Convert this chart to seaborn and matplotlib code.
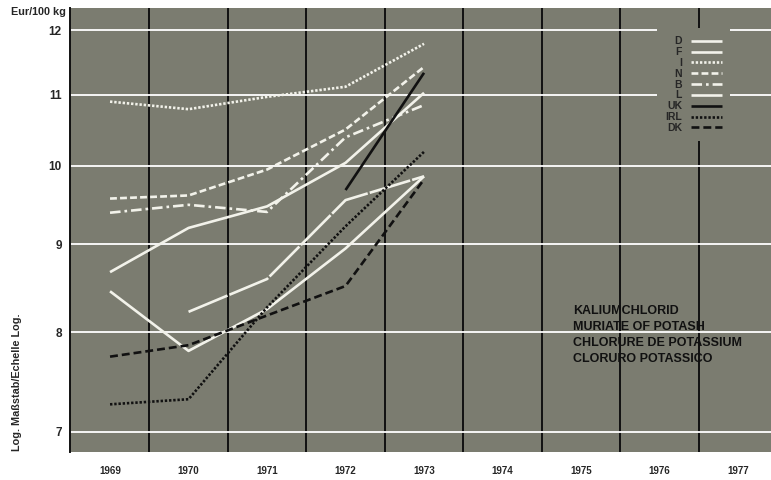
import numpy as np
import pandas as pd
import matplotlib
matplotlib.use("Agg")
import matplotlib.pyplot as plt
import seaborn as sns

# Kaliumchlorid prices, Eur/100 kg
years = [1969, 1970, 1971, 1972, 1973]
year_ticks = list(range(1969, 1978))

d_vals = [8.67, 9.20, 9.47, 10.04, 11.03]
f_vals = [8.45, 7.80, 8.25, 8.95, 9.86]
i_vals = [10.90, 10.79, 10.97, 11.12, 11.78]
n_vals = [9.57, 9.61, 9.95, 10.50, 11.42]
b_vals = [9.39, 9.49, 9.40, 10.39, 10.85]
l_vals = [np.nan, 8.22, 8.59, 9.55, 9.86]
uk_vals = [np.nan, np.nan, np.nan, 9.68, 11.33]
irl_vals = [7.26, 7.31, 8.27, 9.22, 10.19]
dk_vals = [7.74, 7.86, 8.18, 8.51, 9.82]

y_ticks = [7, 8, 9, 10, 11, 12]

WHITE = "#f2f2ea"
BLACK = "#111111"
BG = "#7b7c70"

series = [
    ("D", d_vals, WHITE, "-"),
    ("F", f_vals, WHITE, "-"),
    ("I", i_vals, WHITE, (0, (0.9, 0.7))),
    ("N", n_vals, WHITE, (0, (2.6, 1.2))),
    ("B", b_vals, WHITE, (0, (4, 1.5, 1, 1.5))),
    ("L", l_vals, WHITE, (0, (16, 0.8))),
    ("UK", uk_vals, BLACK, "-"),
    ("IRL", irl_vals, BLACK, (0, (0.9, 0.7))),
    ("DK", dk_vals, BLACK, (0, (3, 1.5))),
]


def main():
    sns.set_style("white")
    plt.rcParams["font.family"] = ["Liberation Sans", "DejaVu Sans"]
    plt.rcParams["font.weight"] = "bold"

    fig = plt.figure(figsize=(7.71, 4.80), dpi=100)
    ax = fig.add_axes([70 / 771, 28 / 480, 701 / 771, 444 / 480])
    ax.set_facecolor(BG)

    handles = []
    for name, vals, color, ls in series:
        df = pd.DataFrame({"year": years, "value": vals}).dropna()
        sns.lineplot(data=df, x="year", y="value", ax=ax, color=color,
                     linestyle=ls, lw=1.9, estimator=None, label=name,
                     solid_capstyle="butt", dash_capstyle="butt")
        handles.append(ax.get_lines()[-1])

    ax.set_yscale("log")
    ax.set_ylim(6.81, 12.36)
    ax.set_xlim(1968.49, 1977.42)
    ax.set_yticks(y_ticks)
    ax.set_yticklabels([str(t) for t in y_ticks])
    ax.yaxis.set_minor_locator(matplotlib.ticker.NullLocator())
    ax.set_xticks(year_ticks)
    ax.set_xticklabels([str(t) for t in year_ticks])
    ax.set_xticks([y + 0.5 for y in year_ticks[:-1]], minor=True)

    ax.grid(False)
    ax.grid(axis="y", which="major", color="white", lw=1.3)
    ax.grid(axis="x", which="minor", color=BLACK, lw=1.4)
    ax.set_axisbelow(True)

    ax.tick_params(axis="y", length=0, pad=6, labelsize=8.5)
    ax.tick_params(axis="x", which="both", length=0, pad=10, labelsize=7)
    for lab in ax.get_xticklabels() + ax.get_yticklabels():
        lab.set_fontweight("bold")
    ax.set_xlabel("")
    ax.set_ylabel("")

    for side in ["top", "right", "bottom"]:
        ax.spines[side].set_visible(False)
    ax.spines["left"].set_color(BLACK)
    ax.spines["left"].set_linewidth(1.4)

    # legend sits on a plain patch that hides the grid behind it
    leg = ax.legend(handles=handles, labels=[s[0] for s in series],
                    loc="upper right", bbox_to_anchor=(0.9415, 0.955),
                    frameon=True, facecolor=BG, edgecolor="none",
                    framealpha=1, fancybox=False, markerfirst=False,
                    fontsize=7.5, handlelength=2.9, handletextpad=0.9,
                    labelspacing=0.08, borderpad=0.8, borderaxespad=0)
    for t in leg.get_texts():
        t.set_fontweight("bold")

    ax.text(0.7175, 0.330,
            "KALIUMCHLORID\nMURIATE OF POTASH\nCHLORURE DE POTASSIUM\nCLORURO POTASSICO",
            transform=ax.transAxes, ha="left", va="top", fontsize=9,
            fontweight="bold", linespacing=1.42, color=BLACK)

    fig.text(0.085, 0.975, "Eur/100 kg", ha="right", va="center",
             fontsize=7.8, fontweight="bold")
    fig.text(0.022, 0.06, "Log. Maßstab/Echelle Log.", rotation=90,
             ha="center", va="bottom", fontsize=7.8, fontweight="bold")

    fig.savefig("out.png", dpi=100, facecolor="white")


if __name__ == "__main__":
    main()
